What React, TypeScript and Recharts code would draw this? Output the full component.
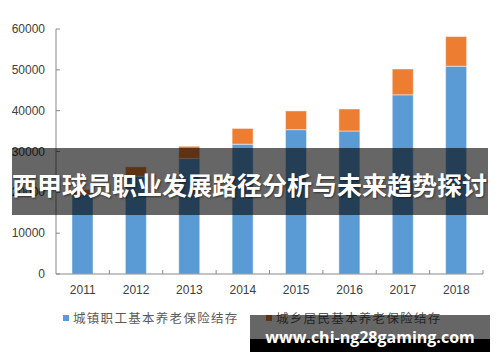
import { BarChart, Bar, XAxis, YAxis } from 'recharts'

const years = ['2011', '2012', '2013', '2014', '2015', '2016', '2017', '2018']
const urbanWorkers = [19497, 23941, 28269, 31800, 35345, 35020, 43885, 50901]
const ruralResidents = [1199, 2302, 3006, 3845, 4592, 5385, 6318, 7250]
const yTicks = [0, 10000, 20000, 30000, 40000, 50000, 60000]

const series = [
  { key: 'urban', name: '城镇职工基本养老保险结存', color: '#5B9BD5' },
  { key: 'rural', name: '城乡居民基本养老保险结存', color: '#ED7D31' },
]

const title = '西甲球员职业发展路径分析与未来趋势探讨'
const watermark = 'www.chi-ng28gaming.com'

const W = 500
const H = 362
// x axis takes 30px of its own below the plot
const margin = { top: 29, right: 17, bottom: 58, left: 0 }
const yAxisWidth = 56
const band = (W - yAxisWidth - margin.right) / years.length
const axisColor = '#898989'
const labelFont = '"Liberation Sans", Arial, sans-serif'

const data = years.map((y, i) => ({
  year: y,
  urban: urbanWorkers[i],
  rural: ruralResidents[i],
}))

function XTick(props: any) {
  const { x, y, payload } = props
  const edge = x + band / 2
  return (
    <g>
      <line x1={edge} x2={edge} y1={y} y2={y - 4} stroke={axisColor} />
      <text
        x={x}
        y={y + 16}
        textAnchor="middle"
        dominantBaseline="central"
        fontSize={12}
        fontFamily={labelFont}
        fill="#404040"
      >
        {payload.value}
      </text>
    </g>
  )
}

function YTick(props: any) {
  const { x, y, payload } = props
  return (
    <g>
      <line x1={x} x2={x + 4} y1={y} y2={y} stroke={axisColor} />
      <text
        x={x - 11}
        y={y}
        textAnchor="end"
        dominantBaseline="central"
        fontSize={12}
        fontFamily={labelFont}
        fill="#404040"
      >
        {payload.value}
      </text>
    </g>
  )
}

export default function App() {
  return (
    <div
      style={{
        position: 'absolute',
        left: 0,
        top: 0,
        width: W,
        height: H,
        background: '#fff',
        overflow: 'hidden',
      }}
    >
      <BarChart width={W} height={H} data={data} margin={margin}>
        <XAxis
          dataKey="year"
          height={30}
          tickSize={0}
          tickMargin={0}
          tickLine={false}
          axisLine={{ stroke: axisColor }}
          tick={<XTick />}
          interval={0}
        />
        <YAxis
          width={yAxisWidth}
          domain={[0, 60000]}
          ticks={yTicks}
          tickSize={0}
          tickMargin={0}
          tickLine={false}
          axisLine={{ stroke: axisColor }}
          tick={<YTick />}
          interval={0}
        />
        {series.map((s) => (
          <Bar
            key={s.key}
            dataKey={s.key}
            name={s.name}
            stackId="a"
            fill={s.color}
            barSize={21}
            stroke="rgba(255,255,255,0.45)"
            strokeWidth={1}
            isAnimationActive={false}
          />
        ))}
      </BarChart>

      {/* legend */}
      <div
        style={{
          position: 'absolute',
          top: 309,
          left: 63,
          display: 'flex',
          fontFamily: '"Noto Sans CJK SC", sans-serif',
          fontSize: 12.5,
          letterSpacing: 1.3,
          color: '#595959',
          lineHeight: '18px',
        }}
      >
        {series.map((s) => (
          <div
            key={s.key}
            style={{ width: 203, display: 'flex', alignItems: 'center' }}
          >
            <span
              style={{
                width: 6,
                height: 6,
                background: s.color,
                marginRight: 4,
                display: 'inline-block',
              }}
            />
            <span>{s.name}</span>
          </div>
        ))}
      </div>

      {/* title banner */}
      <div
        style={{
          position: 'absolute',
          left: 12,
          top: 148,
          width: 476,
          height: 67,
          background: 'rgba(0,0,0,0.6)',
        }}
      />
      <div
        style={{
          position: 'absolute',
          left: 12,
          top: 172,
          width: 476,
          whiteSpace: 'nowrap',
          fontFamily: '"Noto Sans CJK SC", sans-serif',
          fontWeight: 700,
          fontSize: 25,
          lineHeight: '25px',
          color: '#fff',
          textShadow: '1px 1px 2px rgba(0,0,0,0.5)',
        }}
      >
        {title}
      </div>

      {/* watermark */}
      <div
        style={{
          position: 'absolute',
          left: 250,
          top: 315,
          width: 240,
          height: 24,
          background: 'rgba(0,0,0,0.6)',
        }}
      />
      <div
        style={{
          position: 'absolute',
          left: 250,
          top: 339,
          width: 240,
          height: 13,
          background: '#000',
        }}
      />
      <div
        style={{
          position: 'absolute',
          left: 250,
          top: 326,
          width: 240,
          textAlign: 'center',
          whiteSpace: 'nowrap',
          fontFamily: '"Open Sans", sans-serif',
          fontWeight: 700,
          fontSize: 16,
          color: '#fff',
        }}
      >
        {watermark}
      </div>
    </div>
  )
}
